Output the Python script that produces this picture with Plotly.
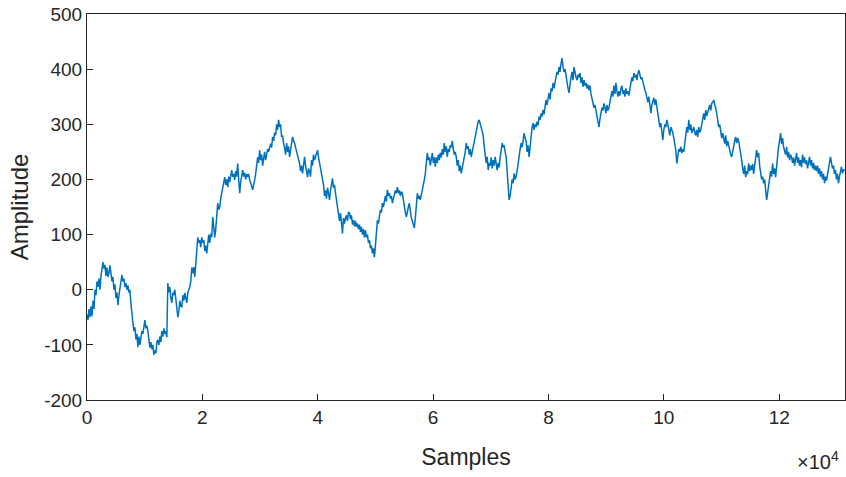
import plotly.graph_objects as go

# Amplitude values, one every SAMPLE_STEP samples
amplitude = [
    -45, -55, -35, -50, -30, -48, -20, -35, 0, -10, 15, 5, 20, 0, 25, 35, 50, 38, 45, 25,
    40, 23, 30, 44, 30, 15, 23, 0, 10, -15, -5, -28, -10, 5, 15, 27, 15, 20, 5, 12,
    0, 8, -5, 0, -25, -50, -60, -75, -68, -90, -80, -104, -85, -100, -90, -75, -80, -60, -55, -70,
    -65, -75, -90, -105, -95, -108, -100, -118, -110, -115, -95, -91, -100, -85, -95, -75, -85, -70, -80, -75,
    -86, 12, -5, 5, -15, -24, -5, -10, 0, -20, -35, -50, -40, -20, -30, -31, -10, -20, -6, -15,
    -24, -5, 0, 5, 15, 40, 30, 41, 23, 50, 80, 95, 85, 90, 77, 95, 85, 90, 70, 80,
    66, 90, 100, 85, 102, 95, 132, 115, 95, 110, 140, 157, 145, 150, 165, 175, 185, 195, 204, 190,
    200, 186, 205, 195, 210, 217, 205, 210, 199, 215, 205, 229, 200, 175, 195, 205, 217, 205, 212, 200,
    210, 205, 210, 199, 195, 188, 181, 195, 199, 210, 225, 240, 230, 253, 235, 245, 225, 240, 250, 235,
    245, 255, 250, 259, 265, 258, 277, 270, 285, 280, 300, 290, 308, 295, 300, 277, 280, 265, 258, 245,
    266, 250, 260, 241, 255, 265, 277, 270, 266, 258, 250, 248, 240, 229, 215, 225, 211, 230, 241, 225,
    215, 204, 220, 215, 205, 235, 225, 245, 235, 240, 245, 253, 240, 230, 225, 215, 204, 190, 170, 180,
    165, 185, 175, 163, 180, 195, 202, 185, 190, 175, 163, 150, 140, 125, 139, 110, 102, 130, 120, 130,
    135, 125, 140, 139, 128, 135, 118, 126, 115, 125, 114, 120, 110, 118, 105, 114, 100, 110, 95, 108,
    95, 100, 85, 90, 75, 80, 66, 75, 59, 80, 100, 126, 120, 135, 145, 140, 157, 150, 165, 170,
    160, 181, 170, 175, 165, 170, 157, 165, 170, 180, 175, 186, 175, 180, 170, 178, 175, 160, 150, 140,
    132, 145, 150, 157, 140, 130, 125, 118, 112, 130, 150, 175, 165, 170, 163, 175, 185, 190, 199, 210,
    230, 248, 235, 240, 225, 235, 248, 230, 240, 223, 240, 230, 245, 235, 248, 240, 255, 245, 266, 250,
    260, 241, 255, 250, 262, 258, 270, 255, 245, 250, 241, 225, 235, 215, 225, 211, 220, 230, 240, 250,
    266, 255, 260, 245, 255, 241, 250, 260, 270, 280, 290, 300, 305, 308, 300, 295, 290, 280, 260, 245,
    230, 241, 217, 230, 225, 240, 220, 235, 225, 241, 230, 217, 230, 222, 240, 255, 266, 258, 262, 250,
    241, 215, 190, 163, 170, 185, 200, 193, 211, 200, 205, 215, 230, 248, 255, 266, 258, 270, 284, 275,
    270, 250, 262, 241, 260, 275, 295, 302, 290, 300, 295, 305, 298, 314, 308, 320, 314, 326, 318, 332,
    344, 335, 350, 357, 345, 365, 360, 375, 365, 380, 386, 395, 390, 404, 395, 410, 420, 405, 395, 400,
    386, 375, 365, 357, 375, 385, 395, 380, 404, 390, 385, 380, 390, 385, 393, 375, 385, 368, 380, 370,
    375, 365, 372, 362, 370, 355, 344, 338, 330, 335, 326, 315, 305, 295, 310, 320, 330, 325, 338, 330,
    320, 335, 325, 330, 340, 350, 360, 350, 370, 355, 375, 360, 350, 360, 352, 365, 370, 355, 362, 350,
    365, 355, 360, 352, 368, 375, 385, 378, 393, 385, 390, 380, 392, 398, 390, 382, 385, 375, 370, 362,
    357, 345, 340, 350, 332, 320, 335, 345, 348, 335, 345, 332, 320, 310, 295, 302, 285, 271, 290, 300,
    295, 308, 300, 290, 280, 295, 290, 285, 275, 265, 253, 229, 245, 255, 250, 259, 248, 255, 250, 265,
    280, 295, 285, 308, 290, 300, 284, 290, 295, 285, 280, 290, 277, 295, 285, 290, 300, 310, 320, 308,
    326, 315, 322, 330, 335, 325, 338, 340, 344, 335, 330, 320, 310, 295, 300, 285, 275, 284, 270, 265,
    280, 260, 270, 259, 250, 245, 241, 255, 260, 270, 277, 266, 275, 270, 260, 250, 235, 220, 210, 225,
    204, 215, 210, 229, 215, 225, 217, 228, 210, 225, 240, 253, 240, 248, 225, 211, 200, 205, 193, 200,
    185, 163, 175, 190, 200, 215, 205, 229, 210, 220, 204, 225, 235, 260, 270, 284, 265, 275, 259, 250,
    245, 259, 240, 250, 235, 245, 240, 230, 240, 225, 235, 248, 230, 240, 225, 235, 222, 245, 230, 240,
    228, 235, 220, 230, 241, 225, 235, 220, 230, 217, 225, 215, 225, 210, 220, 205, 215, 200, 210, 193,
    205, 198, 210, 225, 235, 241, 230, 220, 225, 210, 217, 200, 210, 193, 205, 215, 223, 211, 218, 215,
]
SAMPLE_STEP = 173
samples = [i * SAMPLE_STEP for i in range(len(amplitude))]

x_tick_vals = [0, 20000, 40000, 60000, 80000, 100000, 120000]
x_tick_text = ["0", "2", "4", "6", "8", "10", "12"]
y_tick_vals = [-200, -100, 0, 100, 200, 300, 400, 500]
y_tick_text = ["-200", "-100", "0", "100", "200", "300", "400", "500"]

FONT = "Liberation Sans, Arial, sans-serif"
TXT = "#262626"

fig = go.Figure()
fig.add_trace(go.Scatter(
    x=samples, y=amplitude, mode="lines",
    line=dict(color="#0072BD", width=1.5),
    hoverinfo="skip", showlegend=False,
))

axis_common = dict(
    showgrid=False, zeroline=False, showline=True, linecolor="#262626", linewidth=1,
    mirror=True, ticks="inside", ticklen=6, tickcolor="#262626", automargin=False,
    tickfont=dict(family=FONT, size=19, color=TXT),
)

fig.update_layout(
    width=846, height=477,
    margin=dict(l=87, r=1, t=14, b=77),
    paper_bgcolor="white", plot_bgcolor="white",
    xaxis=dict(range=[0, 131400], tickvals=x_tick_vals, ticktext=x_tick_text,
               title=dict(text="Samples", font=dict(family=FONT, size=23, color=TXT), standoff=22),
               **axis_common),
    yaxis=dict(range=[-200, 500], tickvals=y_tick_vals, ticktext=y_tick_text,
               title=dict(text="Amplitude", font=dict(family=FONT, size=24, color=TXT), standoff=8),
               **axis_common),
    annotations=[dict(
        text="×10<sup>4</sup>", xref="paper", yref="paper", x=1.0, y=-0.12,
        xanchor="right", yanchor="top", showarrow=False, xshift=-4,
        font=dict(family=FONT, size=20, color=TXT),
    )],
)

fig.write_html("out.html", config={"displayModeBar": False},
               post_script="document.body.style.margin='0';document.body.style.overflow='hidden';")
